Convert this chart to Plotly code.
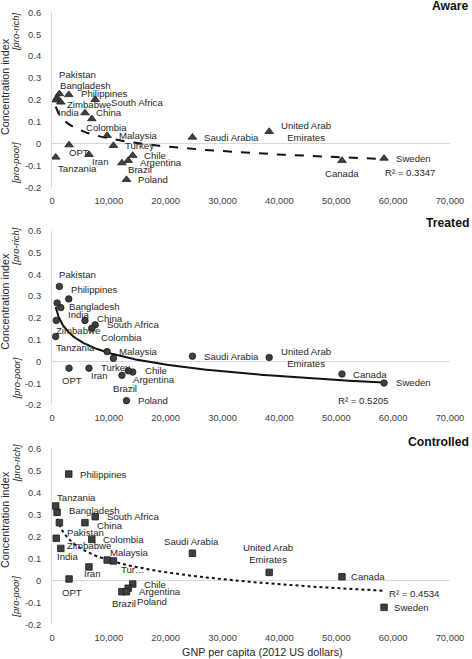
import numpy as np
import plotly.graph_objects as go

# ---------------- data ----------------
countries = ["Pakistan", "Bangladesh", "Philippines", "Zimbabwe", "South Africa", "India",
             "China", "Colombia", "Malaysia", "Turkey", "OPT", "Iran", "Tanzania", "Chile",
             "Argentina", "Brazil", "Poland", "Saudi Arabia", "United Arab Emirates",
             "Canada", "Sweden"]
gnp = [1300, 900, 2950, 750, 7600, 1550, 5800, 7000, 9700, 10800, 3000, 6500, 650, 14200,
       13400, 12300, 13100, 24700, 38200, 51000, 58400]
aware = [0.228, 0.210, 0.224, 0.200, 0.202, 0.190, 0.141, 0.114, 0.038, -0.008, -0.005,
         -0.049, -0.061, -0.053, -0.076, -0.087, -0.163, 0.030, 0.056, -0.076, -0.066]
treated = [0.344, 0.268, 0.287, 0.188, 0.168, 0.247, 0.188, 0.152, 0.045, 0.014, -0.031,
           -0.031, 0.114, -0.049, -0.043, -0.064, -0.180, 0.024, 0.018, -0.058, -0.099]
controlled = [0.262, 0.309, 0.483, 0.191, 0.289, 0.145, 0.262, 0.186, 0.092, 0.088, 0.006,
              0.061, 0.338, -0.017, -0.036, -0.052, -0.052, 0.123, 0.036, 0.016, -0.123]
panel_titles = ["Aware", "Treated", "Controlled"]
r2_texts = ["R² = 0.3347", "R² = 0.5205", "R² = 0.4534"]
x_ticks = [0, 10000, 20000, 30000, 40000, 50000, 60000, 70000]
y_ticks = [-0.2, -0.1, 0, 0.1, 0.2, 0.3, 0.4, 0.5, 0.6]
y_ticktext = ["-0.2", "-0.1", "0", "0.1", "0.2", "0.3", "0.4", "0.5", "0.6"]
x_title = "GNP per capita (2012 US dollars)"
y_title = "Concentration index"

# ---------------- layout / style ----------------
W, H = 472, 659
FONT = "Liberation Sans, Arial, sans-serif"
X0, X1 = 52, 450
panels_px = [(12.3, 187.7), (230.7, 405.0), (448.3, 624.3)]
series = [aware, treated, controlled]
symbols = ["triangle-up", "circle", "square"]
msizes = [7.5, 6.5, 6.5]
dashes = ["dash", "solid", "dot"]
title_y_px = [6, 223.3, 441.7]
r2_pos = [(383, 172.7), (335.7, 400), (386.7, 593.3)]
side_px = [(32, 87, 163), (246.7, 301.7, 378.3), (463.3, 520, 596.7)]

# label placements: (dx, dy downward, anchor)
place = [
    {"Pakistan": (-2, -19), "Bangladesh": (0.5, -12), "Philippines": (10, -1),
     "Zimbabwe": (9, 4), "South Africa": (14, 3), "India": (-4.5, 10.6),
     "Colombia": (-8, 9), "OPT": (-2, 8), "Iran": (1.3, 6.7), "Tanzania": (0.6, 11.6),
     "Argentina": (9.4, 2.3), "Brazil": (4.3, 7), "Canada": (0, 12.7, "center"),
     "United Arab Emirates": (10, 0)},
    {"Pakistan": (-2, -12), "Philippines": (0.5, -9), "Bangladesh": (10, 3),
     "India": (5, 6.5), "China": (9.6, -2.4), "Zimbabwe": (-2.7, 9.6),
     "Colombia": (7.5, 9), "Tanzania": (-1.4, 11), "Turkey": (-14, 8.7),
     "OPT": (-8.8, 12.5), "Iran": (-0.4, 7), "Chile": (9.8, -1.7),
     "Argentina": (3, 9), "Brazil": (-10.7, 13.3)},
    {"Tanzania": (-1, -8.3), "Bangladesh": (10, -2.3), "China": (9.6, 3.3),
     "Pakistan": (6, 9.6), "Zimbabwe": (8.3, 7.7), "India": (-5.5, 8.3),
     "Malaysia": (0.8, -7.4), "Turkey": (5.8, 9), "Iran": (-7, 7), "OPT": (-8.8, 13.3),
     "Argentina": (8.8, 3.5), "Brazil": (-11.7, 11.6), "Poland": (8.8, 10),
     "Saudi Arabia": (-1, -12.2, "center"), "United Arab Emirates": (-1, -18.4, "center"),
     "Canada": (7, 0), "Sweden": (7.7, 0)},
]


def px_x(p):
    return p / W


def px_y(p):
    return 1 - p / H


fig = go.Figure()
annotations = []
xs = np.array(gnp, dtype=float)

for i in range(3):
    ys = np.array(series[i], dtype=float)
    sfx = "" if i == 0 else str(i + 1)
    xa, ya = "x" + sfx, "y" + sfx
    # logarithmic trend line fitted to the data
    b, a = np.polyfit(np.log(xs), ys, 1)
    tx = np.geomspace(xs.min(), xs.max(), 200)
    ty = a + b * np.log(tx)
    fig.add_trace(go.Scatter(x=tx, y=ty, mode="lines", xaxis=xa, yaxis=ya,
                             line=dict(color="#111111", width=2, dash=dashes[i]),
                             hoverinfo="skip", showlegend=False))
    fig.add_trace(go.Scatter(x=xs, y=ys, mode="markers", xaxis=xa, yaxis=ya,
                             marker=dict(symbol=symbols[i], size=msizes[i], color="#404040",
                                         line=dict(color="#1a1a1a", width=0.8)),
                             showlegend=False))
    # country labels
    for c, xv, yv in zip(countries, gnp, series[i]):
        p = place[i].get(c, (9.5, 0))
        anchor = p[2] if len(p) > 2 else "left"
        txt = c
        if c == "United Arab Emirates":
            txt = "United Arab<br>Emirates"
        if c == "Turkey" and i == 2:
            txt = "Tur…"
        annotations.append(dict(x=xv, y=yv, xref=xa, yref=ya, text=txt, showarrow=False,
                                xanchor=anchor, yanchor="middle", align="center",
                                xshift=p[0], yshift=-p[1],
                                font=dict(family=FONT, size=9.6, color="#262626")))
    # panel title
    annotations.append(dict(x=px_x(470.5), y=px_y(title_y_px[i]), xref="paper", yref="paper",
                            text="<b>%s</b>" % panel_titles[i], showarrow=False,
                            xanchor="right", yanchor="middle",
                            font=dict(family=FONT, size=12.2, color="#111111")))
    # R^2
    annotations.append(dict(x=px_x(r2_pos[i][0]), y=px_y(r2_pos[i][1]), xref="paper",
                            yref="paper", text=r2_texts[i], showarrow=False,
                            xanchor="left", yanchor="middle",
                            font=dict(family=FONT, size=9.6, color="#262626")))
    # y-axis side labels
    rich, mid, poor = side_px[i]
    annotations.append(dict(x=px_x(5), y=px_y(mid), xref="paper", yref="paper",
                            text=y_title, textangle=-90, showarrow=False,
                            xanchor="center", yanchor="middle",
                            font=dict(family=FONT, size=10.8, color="#262626")))
    annotations.append(dict(x=px_x(16), y=px_y(rich), xref="paper", yref="paper",
                            text="<i>[pro-rich]</i>", textangle=-90, showarrow=False,
                            xanchor="center", yanchor="middle",
                            font=dict(family=FONT, size=9.4, color="#262626")))
    annotations.append(dict(x=px_x(16), y=px_y(poor), xref="paper", yref="paper",
                            text="<i>[pro-poor]</i>", textangle=-90, showarrow=False,
                            xanchor="center", yanchor="middle",
                            font=dict(family=FONT, size=9.4, color="#262626")))

# x axis title
annotations.append(dict(x=px_x(262.5), y=px_y(651.5), xref="paper", yref="paper",
                        text=x_title, showarrow=False, xanchor="center", yanchor="middle",
                        font=dict(family=FONT, size=10.8, color="#262626")))

layout = dict(width=W, height=H, margin=dict(l=0, r=0, t=0, b=0, pad=0, autoexpand=False),
              paper_bgcolor="white", plot_bgcolor="white", showlegend=False,
              annotations=annotations, font=dict(family=FONT, color="#404040"))

for i in range(3):
    sfx = "" if i == 0 else str(i + 1)
    top, bot = panels_px[i]
    layout["xaxis" + sfx] = dict(domain=[px_x(X0), px_x(X1)], anchor="y" + sfx,
                                 range=[0, 70000], tickvals=x_ticks, tickformat=",",
                                 showline=False, showgrid=False, zeroline=False,
                                 automargin=False,
                                 ticks="outside", ticklen=4, tickcolor="rgba(0,0,0,0)",
                                 tickfont=dict(family=FONT, size=9.4, color="#404040"))
    layout["yaxis" + sfx] = dict(domain=[px_y(bot), px_y(top)], anchor="x" + sfx,
                                 range=[-0.2, 0.6], tickvals=y_ticks, ticktext=y_ticktext,
                                 showline=True, linecolor="#d9d9d9", linewidth=1,
                                 showgrid=False, zeroline=True, zerolinecolor="#d9d9d9",
                                 zerolinewidth=1, ticks="outside", ticklen=8,
                                 automargin=False,
                                 tickcolor="rgba(0,0,0,0)",
                                 tickfont=dict(family=FONT, size=9.4, color="#404040"))

fig.update_layout(**layout)
fig.write_html("out.html", config={"displayModeBar": False, "staticPlot": True},
               post_script="document.body.style.margin='0';document.body.style.padding='0';")
